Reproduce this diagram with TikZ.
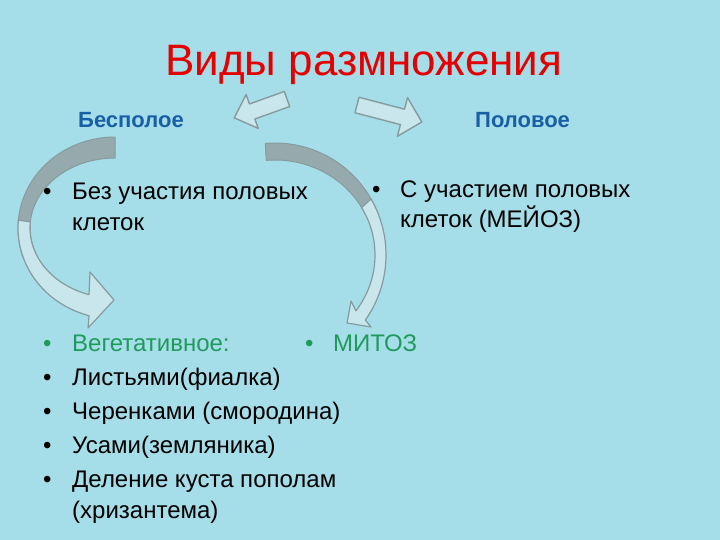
\documentclass[tikz,border=0pt]{standalone}
\usepackage{fontspec}
\setmainfont{Liberation Sans}
\definecolor{bg}{RGB}{165,222,232}
\definecolor{titlered}{RGB}{228,0,0}
\definecolor{headblue}{RGB}{25,95,165}
\definecolor{grn}{RGB}{30,155,90}
\definecolor{bandDark}{RGB}{150,170,173}
\definecolor{bandLight}{RGB}{200,230,235}
\definecolor{edge}{RGB}{135,155,158}
\begin{document}
\begin{tikzpicture}[x=1pt,y=-1pt,
  txt/.style={inner sep=0pt, anchor=base west, font=\fontsize{24}{28}\selectfont, text=black},
  gtxt/.style={txt, text=grn},
  head/.style={inner sep=0pt, anchor=base west, font=\fontsize{22}{26}\selectfont\bfseries, text=headblue},
  ttl/.style={inner sep=0pt, anchor=base west, font=\fontsize{44}{50}\selectfont, text=titlered},
  blk/.style={fill=bandLight, draw=edge, line width=1.4pt, line join=round},
  dband/.style={fill=bandDark, draw=edge, line width=1pt, line join=round},
  lband/.style={fill=bandLight, draw=edge, line width=1.2pt, line join=round}]
\fill[bg] (0,0) rectangle (720,540);
\useasboundingbox (0,0) rectangle (720,540);

% title and headings
\node[ttl] (title) at (165,76) {Виды размножения};
\node[head] (ases) at (78,128) {Бесполое};
\node[head] (sex) at (475,128) {Половое};

% block arrows from the title
\draw[blk, shift={(287,99)}, rotate=199.7]
  (0,-8) -- (37,-8) -- (37,-18) -- (56,0) -- (37,18) -- (37,8) -- (0,8) -- cycle;
\draw[blk, shift={(357,105)}, rotate=-14.7]
  (0,-8) -- (47,-8) -- (47,-20) -- (67,0) -- (47,20) -- (47,8) -- (0,8) -- cycle;

% left curved arrow
\draw[dband] plot[domain=-90:-200, samples=40] ({115+97*cos(\x)},{228+91*sin(\x)})
  -- plot[domain=-200:-90, samples=40] ({115+85*cos(\x)},{228+70*sin(\x)}) -- cycle;
\draw[lband] plot[domain=-175:-254.5, samples=40] ({115+97*cos(\x)},{228+91*sin(\x)})
  -- (88,328) -- (114,300) -- (90,272)
  -- plot[domain=-252.2:-175, samples=40] ({115+85*cos(\x)},{228+70*sin(\x)}) -- cycle;

% right curved arrow
\draw[dband] plot[domain=-95:-25, samples=40] ({275+111*cos(\x)},{255+112*sin(\x)})
  -- plot[domain=-25:-95, samples=40] ({275+100*cos(\x)},{255+95*sin(\x)}) -- cycle;
\draw[lband] plot[domain=-30:35.5, samples=40] ({275+111*cos(\x)},{255+112*sin(\x)})
  -- (371,327) -- (347,323) -- (351,301)
  -- plot[domain=36:-30, samples=40] ({275+100*cos(\x)},{255+95*sin(\x)}) -- cycle;

% upper bullets
\node[txt] (bu1) at (43,200) {•};
\node[txt] (t1a) at (72,200) {Без участия половых};
\node[txt] (t1b) at (72,230) {клеток};
\node[txt] (bu2) at (372,198) {•};
\node[txt] (t2a) at (400,198) {С участием половых};
\node[txt] (t2b) at (400,227) {клеток (МЕЙОЗ)};

% list
\node[gtxt] (bl0) at (43,351) {•};
\node[gtxt] (l0) at (72,351) {Вегетативное:};
\node[gtxt] (bm) at (305,351) {•};
\node[gtxt] (mit) at (333,351) {МИТОЗ};
\node[txt] (bl1) at (43,385) {•};
\node[txt] (l1) at (72,385) {Листьями(фиалка)};
\node[txt] (bl2) at (43,419) {•};
\node[txt] (l2) at (72,419) {Черенками (смородина)};
\node[txt] (bl3) at (43,453) {•};
\node[txt] (l3) at (72,453) {Усами(земляника)};
\node[txt] (bl4) at (43,487) {•};
\node[txt] (l4) at (72,487) {Деление куста пополам};
\node[txt] (l4b) at (72,518) {(хризантема)};
\end{tikzpicture}
\end{document}
